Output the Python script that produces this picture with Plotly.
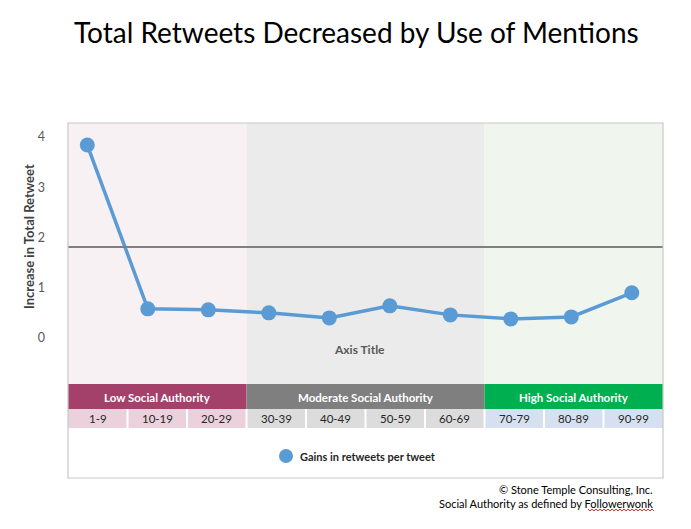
import plotly.graph_objects as go

# ---------------- data ----------------
categories = ["1-9", "10-19", "20-29", "30-39", "40-49", "50-59", "60-69", "70-79", "80-89", "90-99"]
gains = [3.84, 0.58, 0.56, 0.50, 0.40, 0.64, 0.46, 0.38, 0.42, 0.90]
reference_level = 1.81
group_names = ["Low Social Authority", "Moderate Social Authority", "High Social Authority"]
group_sizes = [3, 4, 3]
y_ticks = [0, 1, 2, 3, 4]
series_name = "Gains in retweets per tweet"
title_text = "Total Retweets Decreased by Use of Mentions"
y_title = "Increase in Total Retweet"
x_title = "Axis Title"
footer_lines = ["© Stone Temple Consulting, Inc.", "Social Authority as defined by Followerwonk"]

# ---------------- styles ----------------
W, H = 691, 529
PL, PR, PT, PB = 68, 663, 123, 384  # plot area in pixels
FONT = "Lato"
group_bg = ["#F7F1F3", "#EBEBEB", "#F0F6EE"]
group_head = ["#A3416B", "#7F7F7F", "#00B050"]
group_cell = ["#EBD1DC", "#DCDCDC", "#D7E0F0"]
line_color = "#5B9BD5"


def px_x(px):
    return (px - PL) / (PR - PL)


def px_y(py):
    return (PB - py) / (PB - PT)


def note(x, y, text, size, color, xanchor="center", yanchor="middle", **kw):
    return dict(x=px_x(x), y=px_y(y), xref="paper", yref="paper", text=text,
                showarrow=False, xanchor=xanchor, yanchor=yanchor,
                font=dict(family=FONT, size=size, color=color), **kw)


def note_paper(x, ypx, text, size, color):
    return dict(x=x, y=px_y(ypx), xref="paper", yref="paper", text=text,
                showarrow=False, xanchor="center", yanchor="middle",
                font=dict(family=FONT, size=size, color=color))


fig = go.Figure()
fig.add_trace(go.Scatter(
    x=list(range(len(categories))), y=gains, mode="lines+markers",
    name=series_name, showlegend=False,
    line=dict(color=line_color, width=3.5),
    marker=dict(color=line_color, size=15),
    cliponaxis=False,
))

shapes = []
annotations = []
n = len(categories)
start = 0
for gi, (gname, gsize) in enumerate(zip(group_names, group_sizes)):
    x0 = start / n
    x1 = (start + gsize) / n
    shapes.append(dict(type="rect", xref="paper", yref="paper", x0=x0, x1=x1, y0=0, y1=1,
                       fillcolor=group_bg[gi], line=dict(width=0), layer="below"))
    shapes.append(dict(type="rect", xref="paper", yref="paper", x0=x0, x1=x1,
                       y0=px_y(409), y1=px_y(384), fillcolor=group_head[gi], line=dict(width=0)))
    annotations.append(note_paper((x0 + x1) / 2, 397, f"<b>{gname}</b>", 11.5, "white"))
    for ci in range(start, start + gsize):
        cx0 = ci / n
        cx1 = (ci + 1) / n
        shapes.append(dict(type="rect", xref="paper", yref="paper", x0=cx0, x1=cx1,
                           y0=px_y(428), y1=px_y(409), fillcolor=group_cell[gi],
                           line=dict(width=0)))
        annotations.append(note_paper((cx0 + cx1) / 2, 418.5, categories[ci], 11.5, "#262626"))
    start += gsize

for ci in range(1, n):
    shapes.append(dict(type="line", xref="paper", yref="paper", x0=ci / n, x1=ci / n,
                       y0=px_y(428), y1=px_y(409), line=dict(color="white", width=2)))

# reference horizontal line
shapes.append(dict(type="line", xref="paper", yref="y", x0=0, x1=1,
                   y0=reference_level, y1=reference_level,
                   line=dict(color="#7F7F7F", width=2)))

# frame
shapes.append(dict(type="rect", xref="paper", yref="paper", x0=0, x1=1,
                   y0=px_y(478), y1=1, line=dict(color="#C8C8C8", width=1.2)))

# legend (manual)
shapes.append(dict(type="circle", xref="paper", yref="paper",
                   x0=px_x(279), x1=px_x(293), y0=px_y(463), y1=px_y(449),
                   fillcolor=line_color, line=dict(width=0)))
annotations.append(note(298, 456, f"<b>{series_name}</b>", 11, "#262626", xanchor="left"))

# axis titles
annotations.append(note(359, 349, f"<b>{x_title}</b>", 12, "#595959"))
annotations.append(note(29, 237, f"<b>{y_title}</b>", 13, "#404040", textangle=-90))

# title
annotations.append(note(356, 32, title_text, 28, "black"))

# footer
annotations.append(note(655, 489, footer_lines[0], 11, "black", xanchor="right"))
annotations.append(note(655, 503, footer_lines[1], 11, "black", xanchor="right"))
# spell-check squiggle
zig = []
xs = 588
i = 0
while xs <= 655:
    yy = 509 if i % 2 == 0 else 511
    zig.append(f"{'M' if i == 0 else 'L'} {px_x(xs):.5f} {px_y(yy):.5f}")
    xs += 2
    i += 1
shapes.append(dict(type="path", xref="paper", yref="paper", path=" ".join(zig),
                   line=dict(color="#E03030", width=1)))

# axis range computed from pixel mapping
y_per_px = 4 / (338 - 137)
y_lo = -(PB - 338) * y_per_px
y_hi = (338 - PT) * y_per_px
x_step_px = (631.8 - 87.3) / (n - 1)
x_lo = -(87.3 - PL) / x_step_px
x_hi = (PR - 87.3) / x_step_px

fig.update_layout(
    width=W, height=H,
    margin=dict(l=PL, r=W - PR, t=PT, b=H - PB, pad=0),
    paper_bgcolor="white", plot_bgcolor="white",
    showlegend=False,
    shapes=shapes, annotations=annotations,
    xaxis=dict(range=[x_lo, x_hi], visible=False, fixedrange=True),
    yaxis=dict(range=[y_lo, y_hi], tickvals=y_ticks, showgrid=False, zeroline=False,
               showline=False, ticks="", ticklabelstandoff=22,
               tickfont=dict(family=FONT, size=12.5, color="#595959"), fixedrange=True),
)

fig.write_html("out.html")
